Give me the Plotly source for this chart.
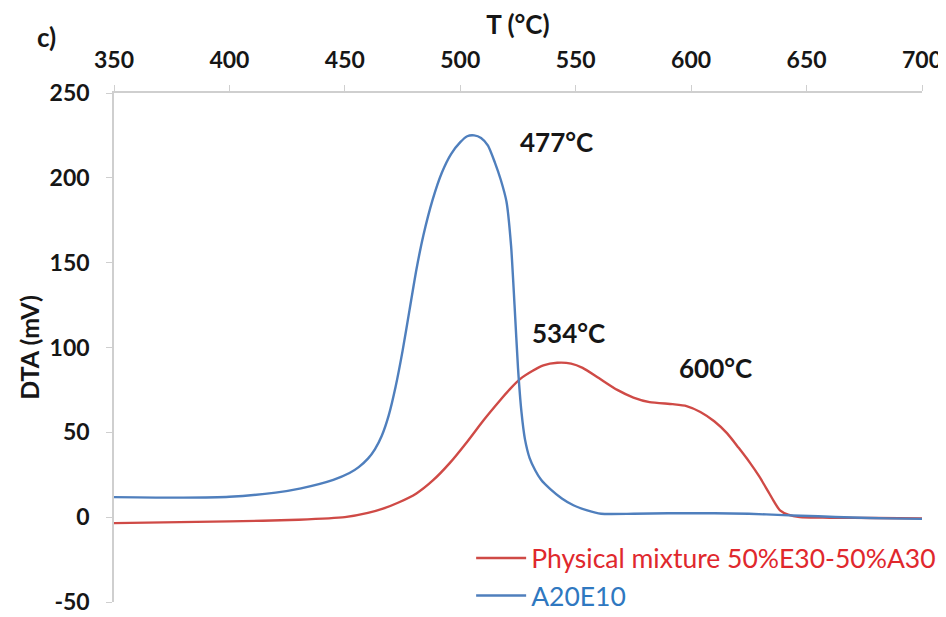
import plotly.graph_objects as go

# A20E10 (blue)
t_blue = [350, 380, 400, 420, 431, 445, 452, 456, 460, 463, 466, 469, 472, 475, 478, 481, 484, 488, 492, 496, 500, 503, 506, 509, 512, 515, 517.5, 520, 522, 523.5, 525, 526.5, 528, 530, 532.5, 535, 539, 544, 549, 555, 561, 575, 590, 610, 625, 640, 655, 670, 685, 700]
v_blue = [11.8, 11.5, 12, 14.5, 17, 22, 26, 29.5, 34.5, 40, 48, 60, 77, 98, 122, 146, 166, 187, 203, 214, 221, 224.5, 225, 223.5, 219, 209, 199, 186, 160, 125, 88, 62, 46, 35, 27.5, 22, 16.5, 11, 7, 4, 2, 2, 2.3, 2.3, 2, 1.2, 0.5, -0.2, -0.7, -1]

# Physical mixture 50%E30-50%A30 (red)
t_red = [350, 400, 430, 450, 460, 466.5, 473, 481, 488, 495.5, 503, 510, 517, 521.5, 526, 531, 536, 542, 548, 553, 560, 568, 575, 582, 592, 598, 604, 610, 615.5, 620.5, 625.5, 629.5, 633, 636, 638.5, 642, 647, 660, 680, 700]
v_red = [-3.5, -2.5, -1.5, 0, 2.5, 5, 8.5, 14, 21.5, 32, 44.5, 57, 68.5, 75.5, 81.5, 86, 89.5, 91, 90.5, 88, 82, 75, 70.5, 67.8, 66.6, 65.5, 62, 56.5, 49.5, 41, 32, 24, 16, 9, 4, 1.5, 0, -0.3, -0.5, -0.7]

# Peak labels
label_text = ["477°C", "534°C", "600°C"]
label_x = [541.5, 547, 610.5]
label_y = [221, 108.5, 88]

x_ticks = [350, 400, 450, 500, 550, 600, 650, 700]
y_ticks = [-50, 0, 50, 100, 150, 200, 250]
y_tick_text = ["-50", "0", "50", "100", "150", "200", "250"]

RED = "#cf4a46"
BLUE = "#4f7fbd"
FONT = "Lato"
DARK = "#161616"

fig = go.Figure()
fig.add_trace(go.Scatter(
    x=t_red, y=v_red, mode="lines", legendgroup="red",
    line=dict(color=RED, width=2.4, shape="spline", smoothing=0.6),
    name="<span style='color:#e0282d'>Physical mixture 50%E30-50%A30</span>"))
fig.add_trace(go.Scatter(
    x=t_blue, y=v_blue, mode="lines", legendgroup="blue",
    line=dict(color=BLUE, width=2.4, shape="spline", smoothing=0.6),
    name="<span style='color:#2f78c0'>A20E10</span>"))

for txt, x, y in zip(label_text, label_x, label_y):
    fig.add_annotation(x=x, y=y, text="<b>" + txt + "</b>", showarrow=False,
                       font=dict(family=FONT, size=26, color=DARK))

fig.add_annotation(xref="paper", yref="paper", x=-0.098, y=1.11, xanchor="left", yanchor="middle",
                   text="<b>c)</b>", showarrow=False, font=dict(family=FONT, size=26, color=DARK))

fig.update_layout(
    width=938, height=609,
    margin=dict(l=106, r=24, t=85, b=15, autoexpand=False),
    paper_bgcolor="white", plot_bgcolor="white",
    font=dict(family=FONT, size=20, color=DARK),
    showlegend=True,
    legend=dict(x=0.442, y=0.133, xanchor="left", yanchor="top", bgcolor="rgba(0,0,0,0)",
                font=dict(family=FONT, size=26.5), tracegroupgap=0, itemwidth=50),
    xaxis=dict(side="top", range=[350, 700], tickvals=x_ticks, showgrid=False, zeroline=False,
               automargin=False,
               showline=True, linecolor="#cfcfcf", linewidth=1.5, ticks="outside", ticklen=6,
               tickcolor="#cfcfcf", ticklabelstandoff=8,
               tickfont=dict(family=FONT, size=23, color=DARK, weight="bold"),
               title=dict(text="<b>T (°C)</b>", font=dict(family=FONT, size=26, color=DARK), standoff=7)),
    yaxis=dict(range=[-50, 250], tickvals=y_ticks, ticktext=y_tick_text, showgrid=False, zeroline=False,
               automargin=False,
               showline=True, linecolor="#cfcfcf", linewidth=1.5, ticks="outside", ticklen=6,
               tickcolor="#cfcfcf", ticklabelstandoff=12,
               tickfont=dict(family=FONT, size=23, color=DARK, weight="bold"),
               title=dict(text="<b>DTA (mV)</b>", font=dict(family=FONT, size=25, color=DARK), standoff=3)),
)

fig.write_html("out.html")
